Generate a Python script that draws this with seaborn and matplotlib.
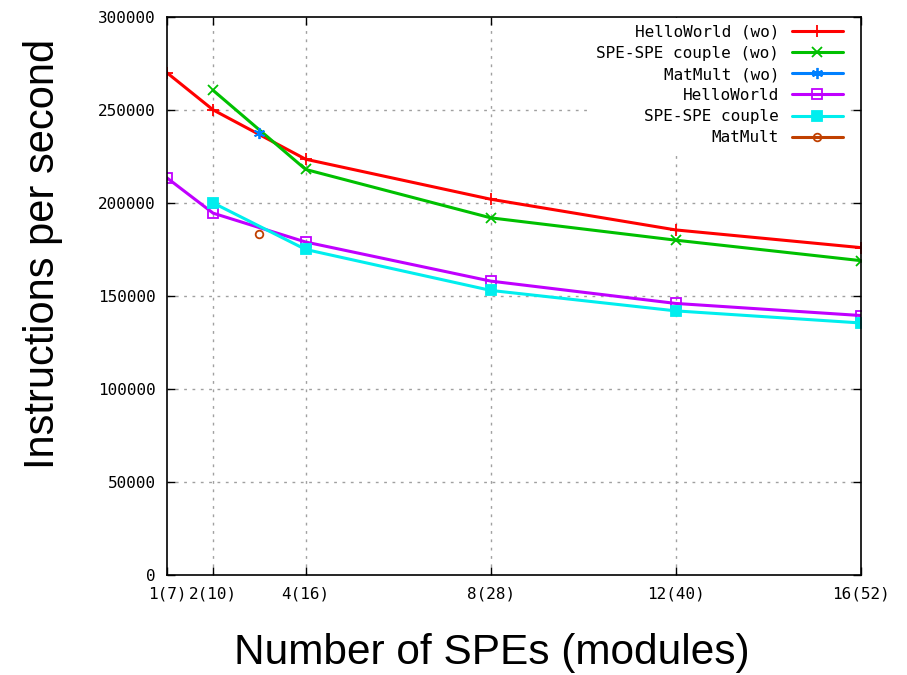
import matplotlib
matplotlib.use("Agg")
import matplotlib.pyplot as plt
import seaborn as sns
import pandas as pd

# Module counts on the x axis (SPEs plus PPE-side modules)
modules_hello = [7, 10, 16, 28, 40, 52]
modules_couple = [10, 16, 28, 40, 52]
modules_matmult = [13]

# Instructions per second
hello_wo = [270000, 250000, 223500, 202000, 185500, 176000]
couple_wo = [260500, 218000, 192000, 180000, 169000]
matmult_wo = [237500]
hello = [213500, 194500, 179000, 158000, 146000, 139500]
couple = [200000, 175000, 153000, 142000, 135500]
matmult = [183500]

xtick_values = [7, 10, 16, 28, 40, 52]
xtick_labels = ["1(7)", "2(10)", "4(16)", "8(28)", "12(40)", "16(52)"]
ytick_values = [0, 50000, 100000, 150000, 200000, 250000, 300000]

series = [
    ("HelloWorld (wo)", modules_hello, hello_wo, "#ff0000", "+", "none", 9),
    ("SPE-SPE couple (wo)", modules_couple, couple_wo, "#00c000", "x", "none", 7),
    ("MatMult (wo)", modules_matmult, matmult_wo, "#0080ff", (6, 2, 0), "none", 8),
    ("HelloWorld", modules_hello, hello, "#c000ff", "s", "none", 6.5),
    ("SPE-SPE couple", modules_couple, couple, "#00eeee", "s", "full", 6.5),
    ("MatMult", modules_matmult, matmult, "#c04000", "o", "none", 5.5),
]

sns.set_style("white")
plt.rcParams["font.family"] = ["DejaVu Sans"]
mono = "DejaVu Sans Mono"

fig = plt.figure(figsize=(9.07, 6.75), dpi=100)
ax = fig.add_axes([0.184, 0.148, 0.765, 0.827])

for name, xs, ys, color, marker, fill, msize in series:
    df = pd.DataFrame({"modules": xs, "ips": ys})
    mfc = color if fill == "full" else "none"
    sns.lineplot(data=df, x="modules", y="ips", ax=ax, color=color,
                 marker=marker, markersize=msize,
                 markerfacecolor=mfc, markeredgecolor=color,
                 markeredgewidth=1.3, linewidth=2.2, label=name,
                 estimator=None, sort=False)

ax.set_xlim(7, 52)
ax.set_ylim(0, 300000)
ax.set_xticks(xtick_values)
ax.set_xticklabels(xtick_labels, fontfamily=mono, fontsize=11.5)
ax.set_yticks(ytick_values)
ax.set_yticklabels([str(v) for v in ytick_values], fontfamily=mono, fontsize=11.5)
ax.tick_params(direction="in", length=6, width=1, top=True, right=True,
               bottom=True, left=True, pad=8, colors="black")

ax.grid(True, linestyle=(0, (2, 4)), color="#a0a0a0", linewidth=1)
# no grid lines along the frame edges
for gl in (ax.xaxis.get_gridlines()[0], ax.xaxis.get_gridlines()[-1],
           ax.yaxis.get_gridlines()[0], ax.yaxis.get_gridlines()[-1]):
    gl.set_visible(False)
for spine in ax.spines.values():
    spine.set_visible(True)
    spine.set_color("black")
    spine.set_linewidth(1.2)
    spine.set_zorder(3)

ax.set_xlabel("Number of SPEs (modules)", fontfamily="Liberation Sans",
              fontsize=30.5, color="black")
ax.set_ylabel("Instructions per second", fontfamily="Liberation Sans",
              fontsize=30, color="black")
# label positions in axes coordinates
ax.xaxis.set_label_coords(0.468, -0.104)
ax.yaxis.set_label_coords(-0.150, 0.575)

leg = ax.legend(loc="upper right", bbox_to_anchor=(0.986, 1.0),
                markerfirst=False, frameon=True,
                fancybox=False, framealpha=1, facecolor="white",
                edgecolor="none", prop={"family": mono, "size": 11.5},
                handlelength=3.2, labelspacing=0.38, borderpad=0.4,
                handletextpad=0.8, borderaxespad=0.1)
leg.set_zorder(2.2)
for t in leg.get_texts():
    t.set_ha("right")
    t.set_color("black")
leg._legend_box.align = "right"

fig.savefig("out.png", dpi=100)
